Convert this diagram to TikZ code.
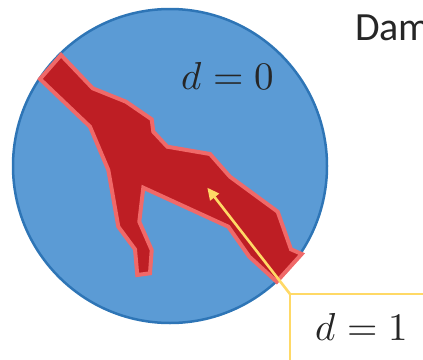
\documentclass[tikz,border=0pt]{standalone}
\usepackage{fontspec}
\usepackage{unicode-math}
\setmathfont{Latin Modern Math}
\newfontfamily\labelfont{Carlito}
\usetikzlibrary{arrows.meta}
\definecolor{discfill}{HTML}{5B9BD5}
\definecolor{discedge}{HTML}{2E75B6}
\definecolor{crackfill}{HTML}{BE1E24}
\definecolor{crackedge}{HTML}{F06969}
\definecolor{callout}{HTML}{FFD966}
\tikzset{
  disc/.style={fill=discfill, draw=discedge, line width=2.5pt},
  crack/.style={fill=crackfill, draw=crackedge, line width=4pt, line join=miter},
  pointer/.style={draw=callout, line width=2.6pt, -{Triangle[length=12pt,width=11pt]}},
  calloutbox/.style={draw=callout, line width=1.2pt},
  mathlabel/.style={font=\fontsize{39}{44}\selectfont, inner sep=0pt, text=black!85},
}
\begin{document}
\begin{tikzpicture}[x=1pt, y=-1pt]
  \useasboundingbox (0,0) rectangle (423,359);
  % specimen disc
  \draw[disc] (170,166) circle[radius=157];
  % crack region
  \draw[crack] (40,79) -- (61,55) -- (92.7,88.3) -- (126,101.7) -- (151.7,119.3)
    -- (153.3,131.7) -- (167.3,146.7) -- (210,154) -- (230,176.7) -- (277.7,211.7)
    -- (291,249.3) -- (301.7,254) -- (276.7,281.7) -- (249.3,256.7) -- (228.3,226.7)
    -- (143.3,187.7) -- (139.3,221.7) -- (151.7,250) -- (150,273.3) -- (137.3,275)
    -- (135,249.3) -- (118.3,226.7) -- (108.3,170) -- (90,126.7) -- cycle;
  % callout frame
  \coordinate (corner) at (290,294);
  \coordinate (tip) at (207.3,187.7);
  \draw[calloutbox] (430,294) -- (corner) -- (290,365);
  \draw[pointer] (corner) -- (tip);
  % labels
  \node[mathlabel, anchor=base] (dzero) at (227.5,89) {$d=0$};
  \node[mathlabel, anchor=base] (done) at (361.5,340.5) {$d=1$};
  \node[font=\labelfont\fontsize{40}{44}\selectfont, anchor=base west, inner sep=0pt, text=black!85] (title) at (355,40) {Dam};
\end{tikzpicture}
\end{document}
